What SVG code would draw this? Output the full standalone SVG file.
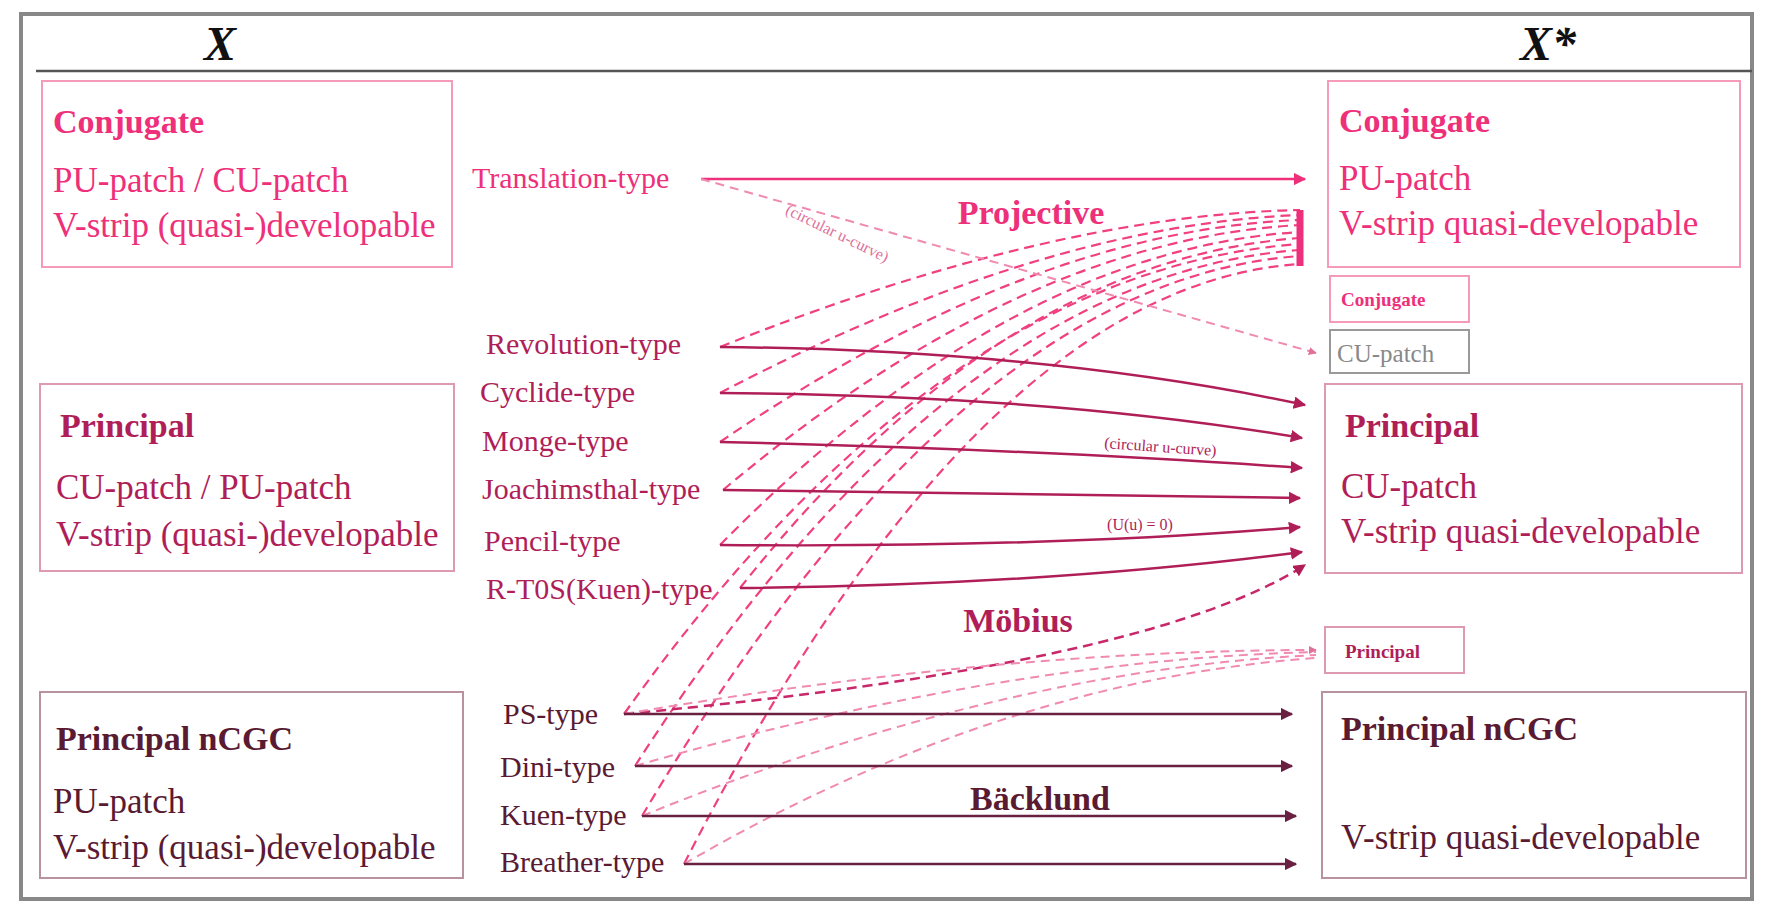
<svg xmlns="http://www.w3.org/2000/svg" width="1773" height="915" viewBox="0 0 1773 915">
<defs>
<style>
text{font-family:"Liberation Serif","Times New Roman",serif}
.t{font-size:34px;font-weight:bold}
.l{font-size:35px}
.m{font-size:30px}
.c{fill:#ee2f7a}.p{fill:#b01e58}.n{fill:#5a1a32}
.bc{fill:none;stroke:#f59ab9;stroke-width:2}
.bp{fill:none;stroke:#dd9ab2;stroke-width:2}
.bn{fill:none;stroke:#b8929f;stroke-width:2}
.a{fill:none;stroke-width:2.5}
.pj{fill:none;stroke:#f0407f;stroke-width:2.2;stroke-dasharray:10 6}
.lt{fill:none;stroke:#f08ab0;stroke-width:2;stroke-dasharray:9 6}
</style>
<marker id="mc" viewBox="0 0 10 10" refX="9" refY="5" markerWidth="5" markerHeight="5" orient="auto"><path d="M0,0L10,5L0,10z" fill="#ee2f7a"/></marker>
<marker id="mp" viewBox="0 0 10 10" refX="9" refY="5" markerWidth="5" markerHeight="5" orient="auto"><path d="M0,0L10,5L0,10z" fill="#b01e58"/></marker>
<marker id="mn" viewBox="0 0 10 10" refX="9" refY="5" markerWidth="5" markerHeight="5" orient="auto"><path d="M0,0L10,5L0,10z" fill="#6a2040"/></marker>
<marker id="ml" viewBox="0 0 10 10" refX="9" refY="5" markerWidth="4" markerHeight="4" orient="auto"><path d="M0,0L10,5L0,10z" fill="#e0709a"/></marker>
</defs>
<rect width="1773" height="915" fill="#fff"/>
<rect x="21" y="14" width="1731" height="885" fill="none" stroke="#888" stroke-width="4"/>
<line x1="36" y1="71" x2="1752" y2="71" stroke="#555" stroke-width="2.5"/>
<text x="220" y="60" font-size="48" font-style="italic" font-weight="bold" text-anchor="middle" fill="#111">X</text>
<text x="1548" y="60" font-size="48" font-style="italic" font-weight="bold" text-anchor="middle" fill="#111">X*</text>

<g id="conn">
<path class="pj" d="M720,347 Q1050,215 1300,210"/>
<path class="pj" d="M720,393 Q1040,225 1300,215"/>
<path class="pj" d="M720,442 Q1030,230 1300,220"/>
<path class="pj" d="M723,490 Q1020,240 1300,225"/>
<path class="pj" d="M720,545 Q1010,250 1300,232"/>
<path class="pj" d="M740,588 Q1000,260 1300,238"/>
<path class="pj" d="M624,714 Q940,270 1300,244"/>
<path class="pj" d="M635,766 Q950,275 1300,250"/>
<path class="pj" d="M642,816 Q960,280 1300,256"/>
<path class="pj" d="M684,864 Q980,285 1300,264"/>
<line x1="1300" y1="210" x2="1300" y2="266" stroke="#ee2f7a" stroke-width="7"/>
<text x="1031" y="224" class="t c" text-anchor="middle">Projective</text>
<line class="a" x1="701" y1="179" x2="1305" y2="179" stroke="#ee2f7a" marker-end="url(#mc)"/>
<line class="lt" x1="701" y1="179" x2="1316" y2="353" marker-end="url(#ml)"/>
<text x="835" y="238" font-size="16" fill="#e0709a" text-anchor="middle" transform="rotate(26 835 238)">(circular u-curve)</text>
<path class="a" stroke="#b01e58" d="M720,347 Q1050,350 1305,405" marker-end="url(#mp)"/>
<path class="a" stroke="#b01e58" d="M720,393 Q1050,395 1302,438" marker-end="url(#mp)"/>
<path class="a" stroke="#b01e58" d="M720,442 Q1050,450 1302,468" marker-end="url(#mp)"/>
<text x="1160" y="452" font-size="16" fill="#b01e58" text-anchor="middle" transform="rotate(4 1160 452)">(circular u-curve)</text>
<path class="a" stroke="#b01e58" d="M723,490 L1300,498" marker-end="url(#mp)"/>
<path class="a" stroke="#b01e58" d="M720,545 Q1050,548 1300,527" marker-end="url(#mp)"/>
<text x="1140" y="530" font-size="16" fill="#b01e58" text-anchor="middle">(U(u) = 0)</text>
<path class="a" stroke="#b01e58" d="M740,588 Q1050,585 1302,552" marker-end="url(#mp)"/>
<path fill="none" stroke="#c8286a" stroke-width="2.5" stroke-dasharray="10 6" d="M624,714 Q1150,665 1305,565" marker-end="url(#mp)"/>
<text x="1018" y="632" class="t p" text-anchor="middle">Möbius</text>
<path class="lt" d="M624,714 Q1000,650 1316,650" marker-end="url(#ml)"/>
<path class="lt" d="M635,766 Q1000,660 1316,652"/>
<path class="lt" d="M642,816 Q1000,670 1316,655"/>
<path class="lt" d="M684,864 Q1000,680 1316,658"/>
<line class="a" x1="624" y1="714" x2="1292" y2="714" stroke="#6a2040" marker-end="url(#mn)"/>
<line class="a" x1="635" y1="766" x2="1292" y2="766" stroke="#6a2040" marker-end="url(#mn)"/>
<line class="a" x1="642" y1="816" x2="1296" y2="816" stroke="#6a2040" marker-end="url(#mn)"/>
<line class="a" x1="684" y1="864" x2="1296" y2="864" stroke="#6a2040" marker-end="url(#mn)"/>
<text x="1040" y="810" class="t n" text-anchor="middle">Bäcklund</text>
</g>

<g id="mid-labels">
<text x="472" y="188" class="m c">Translation-type</text>
<text x="486" y="354" class="m p">Revolution-type</text>
<text x="480" y="402" class="m p">Cyclide-type</text>
<text x="482" y="451" class="m p">Monge-type</text>
<text x="482" y="499" class="m p">Joachimsthal-type</text>
<text x="484" y="551" class="m p">Pencil-type</text>
<text x="486" y="599" class="m p">R-T0S(Kuen)-type</text>
<text x="503" y="724" class="m n">PS-type</text>
<text x="500" y="777" class="m n">Dini-type</text>
<text x="500" y="825" class="m n">Kuen-type</text>
<text x="500" y="872" class="m n">Breather-type</text>
</g>

<g id="left-conjugate">
<rect class="bc" x="42" y="81" width="410" height="186"/>
<text x="53" y="133" class="t c">Conjugate</text>
<text x="53" y="192" class="l c">PU-patch / CU-patch</text>
<text x="53" y="237" class="l c">V-strip  (quasi-)developable</text>
</g>
<g id="left-principal">
<rect class="bp" x="40" y="384" width="414" height="187"/>
<text x="60" y="437" class="t p">Principal</text>
<text x="56" y="499" class="l p">CU-patch / PU-patch</text>
<text x="56" y="546" class="l p">V-strip  (quasi-)developable</text>
</g>
<g id="left-ncgc">
<rect class="bn" x="40" y="692" width="423" height="186"/>
<text x="56" y="750" class="t n">Principal nCGC</text>
<text x="53" y="813" class="l n">PU-patch</text>
<text x="53" y="859" class="l n">V-strip  (quasi-)developable</text>
</g>
<g id="right-conjugate">
<rect class="bc" x="1328" y="81" width="412" height="186"/>
<text x="1339" y="132" class="t c">Conjugate</text>
<text x="1339" y="190" class="l c">PU-patch</text>
<text x="1339" y="235" class="l c">V-strip quasi-developable</text>
</g>
<g id="small-conjugate">
<rect class="bc" x="1330" y="276" width="139" height="46"/>
<text x="1341" y="306" font-size="19" font-weight="bold" class="c">Conjugate</text>
</g>
<g id="small-cu">
<rect fill="none" stroke="#999" stroke-width="2" x="1330" y="330" width="139" height="43"/>
<text x="1337" y="362" font-size="25" fill="#888">CU-patch</text>
</g>
<g id="right-principal">
<rect class="bp" x="1325" y="384" width="417" height="189"/>
<text x="1345" y="437" class="t p">Principal</text>
<text x="1341" y="498" class="l p">CU-patch</text>
<text x="1341" y="543" class="l p">V-strip quasi-developable</text>
</g>
<g id="small-principal">
<rect class="bp" x="1325" y="627" width="139" height="46"/>
<text x="1345" y="658" font-size="19" font-weight="bold" class="p">Principal</text>
</g>
<g id="right-ncgc">
<rect class="bn" x="1322" y="692" width="424" height="186"/>
<text x="1341" y="740" class="t n">Principal nCGC</text>
<text x="1341" y="849" class="l n">V-strip quasi-developable</text>
</g>
</svg>
